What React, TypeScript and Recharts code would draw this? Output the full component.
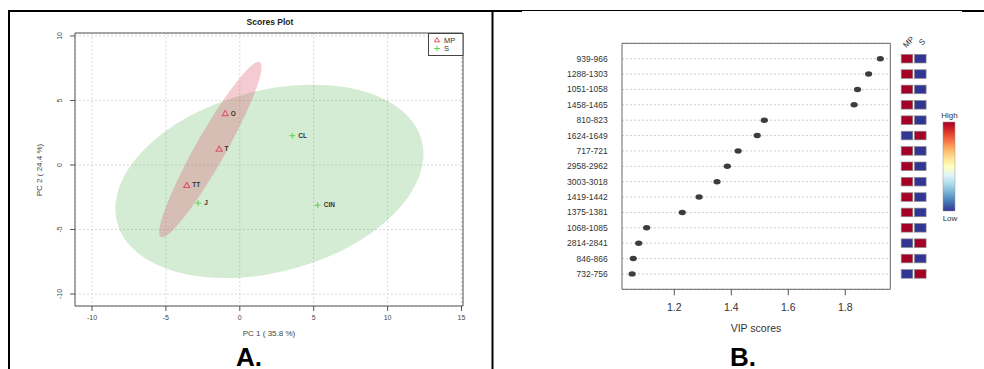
import React from "react";
import { ScatterChart, Scatter, XAxis, YAxis, CartesianGrid, ReferenceArea } from "recharts";

const FONT = "'Liberation Sans', Arial, sans-serif";

// ---- panel A: PCA scores
const mpNames = ["O", "T", "TT"];
const mpPc1 = [-0.99, -1.4, -3.59];
const mpPc2 = [4.0, 1.24, -1.57];
const sNames = ["CL", "J", "CIN"];
const sPc1 = [3.55, -2.82, 5.27];
const sPc2 = [2.27, -2.95, -3.12];
// ellipses: centre, end of 1st semi-axis, end of 2nd semi-axis
const mpEllPc1 = [-1.99, 1.36, -1.105];
const mpEllPc2 = [1.2, 7.98, 0.627];
const sEllPc1 = [2.0, 12.3, 0.39];
const sEllPc2 = [-1.27, 1.93, 5.51];
const pcXTicks = [-10, -5, 0, 5, 10, 15];
const pcYTicks = [-10, -5, 0, 5, 10];
const pcXDomain = [-11.15, 15.1];
const pcYDomain = [-10.93, 10.23];

// ---- panel B: VIP scores
const vipLabels = [
  "939-966", "1288-1303", "1051-1058", "1458-1465", "810-823",
  "1624-1649", "717-721", "2958-2962", "3003-3018", "1419-1442",
  "1375-1381", "1068-1085", "2814-2841", "846-866", "732-756",
];
const vipScores = [1.923, 1.882, 1.843, 1.831, 1.516, 1.491, 1.424, 1.386, 1.35, 1.287, 1.228, 1.103, 1.075, 1.056, 1.052];
const mpLevel = [1, 1, 1, 1, 1, 0, 1, 1, 1, 1, 1, 1, 0, 1, 0];
const sLevel = [0, 0, 0, 0, 0, 1, 0, 0, 0, 0, 0, 0, 1, 0, 1];
const heatCols = ["MP", "S"];
const vipTicks = [1.2, 1.4, 1.6, 1.8];
const vipDomain = [1.0165, 1.958];

const MP_COL = "#DF536B";
const S_COL = "#61D04F";
const S_FILL = "#53B353";
const HIGH = "#A50026";
const LOW = "#313695";

const mpData = mpNames.map((name, i) => ({ name, x: mpPc1[i], y: mpPc2[i] }));
const sData = sNames.map((name, i) => ({ name, x: sPc1[i], y: sPc2[i] }));
const mpEll = mpEllPc1.map((x, i) => ({ x, y: mpEllPc2[i] }));
const sEll = sEllPc1.map((x, i) => ({ x, y: sEllPc2[i] }));
const rowIdx = vipLabels.map((_, i) => i + 1);
const vipData = vipLabels.map((name, i) => ({ name, vip: vipScores[i], row: i + 1 }));
const heatData = vipLabels.flatMap((_, i) => [
  { col: 0.5, row: i + 1, level: mpLevel[i] },
  { col: 1.5, row: i + 1, level: sLevel[i] },
]);

function ellipseLine(color: string, opacity: number) {
  return (p: any) => {
    const pts = p.points;
    if (!pts || pts.length < 3) return <g />;
    const [c, a, b] = pts;
    const m = `matrix(${a.x - c.x} ${a.y - c.y} ${b.x - c.x} ${b.y - c.y} ${c.x} ${c.y})`;
    return <circle cx={0} cy={0} r={1} fill={color} fillOpacity={opacity} stroke="none" transform={m} />;
  };
}

const Nothing = () => <g />;

const Triangle = (p: any) => (
  <g>
    <polygon
      points={`${p.cx},${p.cy - 2.8} ${p.cx - 3},${p.cy + 2.2} ${p.cx + 3},${p.cy + 2.2}`}
      fill="none"
      stroke={MP_COL}
      strokeWidth={1.1}
    />
    <text x={p.cx + 5.5} y={p.cy + 2.2} fontSize={6.5} fontWeight={700} fill="#333" fontFamily={FONT}>
      {p.payload.name}
    </text>
  </g>
);

const Plus = (p: any) => (
  <g>
    <path d={`M${p.cx - 3},${p.cy}H${p.cx + 3}M${p.cx},${p.cy - 3}V${p.cy + 3}`} stroke={S_COL} strokeWidth={1} />
    <text x={p.cx + 6} y={p.cy + 2.2} fontSize={6.5} fontWeight={700} fill="#333" fontFamily={FONT}>
      {p.payload.name}
    </text>
  </g>
);

const RotTick = (p: any) => (
  <text
    x={p.x}
    y={p.y}
    transform={`rotate(-90, ${p.x}, ${p.y})`}
    textAnchor="middle"
    fontSize={7}
    fill="#444"
    fontFamily={FONT}
  >
    {p.payload.value}
  </text>
);

const VipDot = (p: any) => <ellipse cx={p.cx} cy={p.cy} rx={3.6} ry={2.7} fill="#3d3d3d" />;

const HeatCell = (p: any) => (
  <rect
    x={p.cx - 5.8}
    y={p.cy - 4.3}
    width={11.6}
    height={8.6}
    fill={p.payload.level ? HIGH : LOW}
    stroke="#8a8a8a"
    strokeWidth={0.7}
  />
);

const HeadTick = (p: any) => {
  const x = p.x + 1.5;
  const y = 42;
  return (
    <text
      x={x}
      y={y}
      dy="0.35em"
      transform={`rotate(-45, ${x}, ${y})`}
      textAnchor="middle"
      fontSize={8}
      fill="#333"
      fontFamily={FONT}
    >
      {heatCols[Math.floor(p.payload.value)]}
    </text>
  );
};

const gradStops = ["#A50026", "#D73027", "#F46D43", "#FDAE61", "#FEE090", "#FFFFBF", "#E0F3F8", "#ABD9E9", "#74ADD1", "#4575B4", "#313695"];

export default function App() {
  return (
    <div
      style={{
        position: "fixed",
        left: 0,
        top: 0,
        width: 984,
        height: 369,
        background: "#fff",
        overflow: "hidden",
        fontFamily: FONT,
      }}
    >
      {/* A. scores plot */}
      <div style={{ position: "absolute", left: 0, top: 0 }}>
        <ScatterChart width={492} height={369} margin={{ top: 33, right: 29, bottom: 33, left: 50 }}>
          <CartesianGrid stroke="#d9d9d9" strokeDasharray="2 2" />
          <XAxis
            type="number"
            dataKey="x"
            domain={pcXDomain}
            ticks={pcXTicks}
            allowDataOverflow
            height={30}
            axisLine={false}
            tickLine={{ stroke: "#555" }}
            tickSize={5}
            tickMargin={4}
            tick={{ fontSize: 7, fill: "#444", fontFamily: FONT }}
          />
          <YAxis
            type="number"
            dataKey="y"
            domain={pcYDomain}
            ticks={pcYTicks}
            allowDataOverflow
            width={25}
            axisLine={false}
            tickLine={{ stroke: "#555" }}
            tickSize={5}
            tickMargin={7.5}
            tick={<RotTick />}
          />
          <Scatter data={sEll} shape={Nothing} line={ellipseLine(S_FILL, 0.25)} isAnimationActive={false} />
          <Scatter data={mpEll} shape={Nothing} line={ellipseLine(MP_COL, 0.3)} isAnimationActive={false} />
          <ReferenceArea
            x1={pcXDomain[0]}
            x2={pcXDomain[1]}
            y1={pcYDomain[0]}
            y2={pcYDomain[1]}
            fill="none"
            stroke="#555"
            strokeWidth={1}
          />
          <Scatter data={mpData} shape={Triangle} isAnimationActive={false} />
          <Scatter data={sData} shape={Plus} isAnimationActive={false} />
        </ScatterChart>
      </div>

      {/* B. VIP scores */}
      <div style={{ position: "absolute", left: 492, top: 0 }}>
        <ScatterChart width={420} height={369} margin={{ top: 43.3, right: 21.7, bottom: 49.7, left: 10 }}>
          <CartesianGrid vertical={false} stroke="#cfcfcf" strokeDasharray="2 2" />
          <XAxis
            type="number"
            dataKey="vip"
            domain={vipDomain}
            ticks={vipTicks}
            allowDataOverflow
            height={30}
            axisLine={false}
            tickLine={{ stroke: "#555" }}
            tickSize={6}
            tickMargin={8}
            tickFormatter={(v: number) => v.toFixed(1)}
            tick={{ fontSize: 10.5, fill: "#333", fontFamily: FONT }}
          />
          <YAxis
            type="number"
            dataKey="row"
            domain={[0, 16]}
            ticks={rowIdx}
            reversed
            interval={0}
            width={120}
            axisLine={false}
            tickLine={false}
            tickSize={0}
            tickMargin={14.3}
            tickFormatter={(v: number) => vipLabels[v - 1]}
            tick={{ fontSize: 8.5, fill: "#333", fontFamily: FONT }}
          />
          <ReferenceArea
            x1={vipDomain[0]}
            x2={vipDomain[1]}
            y1={0}
            y2={16}
            fill="none"
            stroke="#666"
            strokeWidth={1}
          />
          <Scatter data={vipData} shape={VipDot} isAnimationActive={false} />
        </ScatterChart>
      </div>

      {/* heat map beside B */}
      <div style={{ position: "absolute", left: 895, top: 0 }}>
        <ScatterChart width={40} height={369} margin={{ top: 23.3, right: 8.05, bottom: 79.7, left: 5.35 }}>
          <XAxis
            type="number"
            dataKey="col"
            orientation="top"
            domain={[0, 2]}
            ticks={[0.5, 1.5]}
            interval={0}
            height={20}
            axisLine={false}
            tickLine={false}
            tick={<HeadTick />}
          />
          <YAxis type="number" dataKey="row" domain={[0, 16]} reversed hide />
          <Scatter data={heatData} shape={HeatCell} isAnimationActive={false} />
        </ScatterChart>
      </div>

      {/* frame, titles, legends */}
      <svg width={984} height={369} style={{ position: "absolute", left: 0, top: 0, pointerEvents: "none" }}>
        <defs>
          <linearGradient id="rdylbu" x1="0" y1="0" x2="0" y2="1">
            {gradStops.map((c, i) => (
              <stop key={c} offset={`${(i / (gradStops.length - 1)) * 100}%`} stopColor={c} />
            ))}
          </linearGradient>
        </defs>
        <line x1={8} y1={11} x2={522} y2={11} stroke="#000" strokeWidth={2} />
        <line x1={522} y1={10.5} x2={962} y2={10.5} stroke="#000" strokeWidth={1} />
        <line x1={962} y1={11} x2={984} y2={11} stroke="#000" strokeWidth={2} />
        <line x1={9} y1={10} x2={9} y2={369} stroke="#000" strokeWidth={2} />
        <line x1={492.5} y1={10} x2={492.5} y2={369} stroke="#000" strokeWidth={2} />

        <text x={270} y={25} textAnchor="middle" fontSize={8.5} fontWeight={700} fill="#222" fontFamily={FONT}>
          Scores Plot
        </text>
        <text x={269} y={336} textAnchor="middle" fontSize={8} fill="#444" fontFamily={FONT}>
          PC 1 ( 35.8 %)
        </text>
        <text
          x={42}
          y={170}
          textAnchor="middle"
          fontSize={8}
          fill="#444"
          fontFamily={FONT}
          transform="rotate(-90, 42, 170)"
        >
          PC 2 ( 24.4 %)
        </text>

        <rect x={428.5} y={33.5} width={34.5} height={22} fill="#fff" stroke="#444" strokeWidth={1} />
        <polygon points="437,37.6 434.4,41.8 439.6,41.8" fill="none" stroke={MP_COL} strokeWidth={1} />
        <text x={444} y={42.5} fontSize={7.5} fill="#333" fontFamily={FONT}>MP</text>
        <path d="M434.2,48.5H439.8M437,45.7V51.3" stroke={S_COL} strokeWidth={1} />
        <text x={444} y={51} fontSize={7.5} fill="#333" fontFamily={FONT}>S</text>

        <text x={249} y={366} textAnchor="middle" fontSize={26} fontWeight={700} fill="#000" fontFamily={FONT}>
          A.
        </text>

        <text x={756} y={332} textAnchor="middle" fontSize={10.5} fill="#333" fontFamily={FONT}>
          VIP scores
        </text>
        <text x={743} y={366} textAnchor="middle" fontSize={26} fontWeight={700} fill="#000" fontFamily={FONT}>
          B.
        </text>

        <text x={949.5} y={118} textAnchor="middle" fontSize={8} fill="#333" fontFamily={FONT}>High</text>
        <rect x={943} y={122} width={12} height={89} fill="url(#rdylbu)" stroke="#999" strokeWidth={0.5} />
        <text x={950} y={221} textAnchor="middle" fontSize={8} fill="#333" fontFamily={FONT}>Low</text>
      </svg>
    </div>
  );
}
